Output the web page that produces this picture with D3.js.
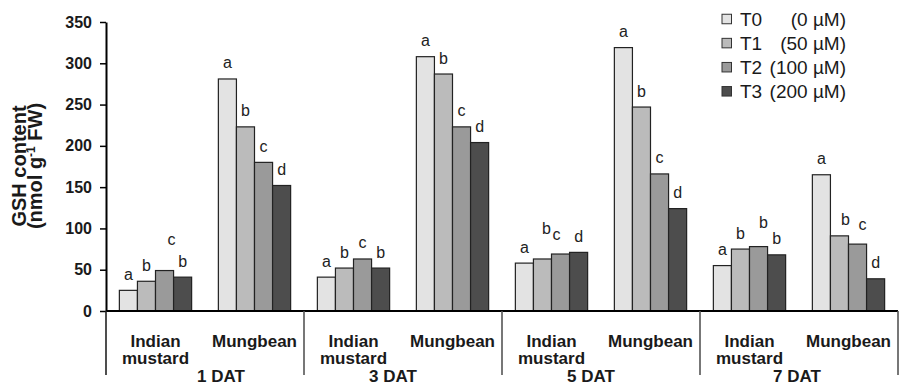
<!DOCTYPE html>
<html>
<head>
<meta charset="utf-8">
<script src="https://cdn.jsdelivr.net/npm/d3@7"></script>
<style>
  body { margin: 0; background: #fff; }
  svg { display: block; font-family: "Liberation Sans", Arial, sans-serif; }
</style>
</head>
<body>
<div id="chart"></div>
<script>
// data: order is 1 DAT IM, 1 DAT MB, 3 DAT IM, 3 DAT MB, ...
const days = ["1 DAT", "3 DAT", "5 DAT", "7 DAT"];
const crops = ["Indian mustard", "Mungbean"];
const treatments = ["T0", "T1", "T2", "T3"];
const doses = ["(0 µM)", "(50 µM)", "(100 µM)", "(200 µM)"];

const t0Values = [25, 281, 41, 308, 58, 319, 55, 165];
const t1Values = [36, 223, 52, 287, 63, 247, 75, 91];
const t2Values = [49, 180, 63, 223, 69, 166, 78, 81];
const t3Values = [41, 152, 52, 204, 71, 124, 68, 39];

const t0Letters = ["a", "a", "a", "a", "a", "a", "a", "a"];
const t1Letters = ["b", "b", "b", "b", "b", "b", "b", "b"];
const t2Letters = ["c", "c", "c", "c", "c", "c", "b", "c"];
const t3Letters = ["b", "d", "b", "d", "d", "d", "b", "d"];

const yTicks = [0, 50, 100, 150, 200, 250, 300, 350];

const seriesValues = [t0Values, t1Values, t2Values, t3Values];
const seriesLetters = [t0Letters, t1Letters, t2Letters, t3Letters];

let rows = [];
days.forEach((day, di) => {
  crops.forEach((crop, ci) => {
    treatments.forEach((t, ti) => {
      const k = di * crops.length + ci;
      rows.push({ day, crop, t, value: seriesValues[ti][k], letter: seriesLetters[ti][k] });
    });
  });
});

const colors = { T0: "#e3e3e3", T1: "#bbbbbb", T2: "#9a9a9a", T3: "#4d4d4d" };

// letters that sit off-centre in the original
const letterNudge = {
  "1 DAT|Indian mustard|T2": [7, -15],
  "5 DAT|Indian mustard|T1": [4, -14],
  "5 DAT|Indian mustard|T2": [-4, -4],
  "7 DAT|Indian mustard|T2": [5, -8],
  "7 DAT|Mungbean|T1": [6, 0],
  "7 DAT|Mungbean|T2": [5, -4]
};
const dayNudge = [16, -10, -10, -2];

const W = 902, H = 386;
const plotLeft = 106, plotRight = 898, plotTop = 22, plotBase = 311;

const svg = d3.select("#chart").append("svg")
  .attr("width", W)
  .attr("height", H);

const yScale = d3.scaleLinear().domain([0, 350]).range([plotBase, plotTop]);
const xDay = d3.scaleBand().domain(days).range([plotLeft, plotRight]);
const xCrop = d3.scaleBand().domain(crops).range([0, xDay.bandwidth()]);
const inset = xCrop.bandwidth() * 0.135;
const xTreat = d3.scaleBand().domain(treatments)
  .range([inset, xCrop.bandwidth() - inset]);

const barX = (d) => xDay(d.day) + xCrop(d.crop) + xTreat(d.t);
const nudgeOf = (d) => letterNudge[d.day + "|" + d.crop + "|" + d.t] || [0, 0];

// bars
svg.append("g")
  .selectAll("rect")
  .data(rows)
  .enter()
  .append("rect")
  .attr("x", barX)
  .attr("y", (d) => yScale(d.value))
  .attr("width", xTreat.bandwidth())
  .attr("height", (d) => plotBase - yScale(d.value))
  .attr("fill", (d) => colors[d.t])
  .attr("stroke", "#222")
  .attr("stroke-width", 1.2);

// significance letters
svg.append("g")
  .selectAll("text")
  .data(rows)
  .enter()
  .append("text")
  .attr("x", (d) => barX(d) + xTreat.bandwidth() / 2 + nudgeOf(d)[0])
  .attr("y", (d) => yScale(d.value) - 10.5 + nudgeOf(d)[1])
  .attr("text-anchor", "middle")
  .attr("font-size", 16)
  .attr("fill", "#222")
  .text((d) => d.letter);

// y axis
const yAxis = svg.append("g")
  .attr("transform", "translate(" + plotLeft + ",0)")
  .call(d3.axisLeft(yScale).tickValues(yTicks).tickSize(6).tickSizeOuter(0).tickPadding(8));
yAxis.select(".domain").attr("stroke", "#000").attr("stroke-width", 2);
yAxis.selectAll(".tick line").attr("stroke", "#000").attr("stroke-width", 1.5);
yAxis.selectAll(".tick text")
  .attr("font-family", "'Liberation Sans', Arial, sans-serif")
  .attr("font-size", 16)
  .attr("font-weight", "bold")
  .attr("fill", "#1a1a1a");

// x axis line and the group separators below it
svg.append("line")
  .attr("x1", xDay.range()[0]).attr("x2", xDay.range()[1])
  .attr("y1", plotBase).attr("y2", plotBase)
  .attr("stroke", "#000")
  .attr("stroke-width", 2.2);

const sepX = days.map((d) => xDay(d)).concat([xDay.range()[1]]);
svg.append("g")
  .selectAll("line")
  .data(sepX)
  .enter()
  .append("line")
  .attr("x1", (d) => d).attr("x2", (d) => d)
  .attr("y1", plotBase).attr("y2", 375)
  .attr("stroke", (d, i) => i == 0 ? "#222" : "#555")
  .attr("stroke-width", 1.6);

// crop labels
const cropLabels = svg.append("g")
  .attr("font-size", 17)
  .attr("font-weight", "bold")
  .attr("fill", "#1a1a1a")
  .attr("text-anchor", "middle");
days.forEach((day) => {
  crops.forEach((crop) => {
    const cx = xDay(day) + xCrop(crop) + xCrop.bandwidth() / 2;
    const words = crop == "Mungbean" ? [crop] : crop.split(" ");
    words.forEach((w, i) => {
      cropLabels.append("text")
        .attr("x", cx)
        .attr("y", 346.5 + i * 17)
        .text(w);
    });
  });
});

// day labels
svg.append("g")
  .selectAll("text")
  .data(days)
  .enter()
  .append("text")
  .attr("x", (d, i) => xDay(d) + xDay.bandwidth() / 2 + dayNudge[i])
  .attr("y", 382)
  .attr("text-anchor", "middle")
  .attr("font-size", 17)
  .attr("font-weight", "bold")
  .attr("fill", "#1a1a1a")
  .text((d) => d);

// y axis title, two lines
svg.append("text")
  .attr("transform", "translate(25.5,166) rotate(-90)")
  .attr("text-anchor", "middle")
  .attr("font-size", 20)
  .attr("font-weight", "bold")
  .attr("fill", "#1a1a1a")
  .text("GSH content");
const yUnit = svg.append("text")
  .attr("transform", "translate(41.5,166) rotate(-90)")
  .attr("text-anchor", "middle")
  .attr("font-size", 20)
  .attr("font-weight", "bold")
  .attr("fill", "#1a1a1a");
yUnit.append("tspan").text("(nmol g");
yUnit.append("tspan").attr("font-size", 12).attr("dy", -7).text("-1");
yUnit.append("tspan").attr("dy", 7).text(" FW)");

// legend
const legend = svg.append("g").attr("class", "legend");
const legendY = d3.scalePoint().domain(treatments).range([19, 91.3]);
treatments.forEach((t, i) => {
  const cy = legendY(t);
  legend.append("rect")
    .attr("x", 722).attr("y", cy - 4.75)
    .attr("width", 9.5).attr("height", 9.5)
    .attr("fill", colors[t])
    .attr("stroke", "#333")
    .attr("stroke-width", 1);
  legend.append("text")
    .attr("x", 740).attr("y", cy + 6.5)
    .attr("font-size", 19)
    .attr("fill", "#1a1a1a")
    .text(t);
  legend.append("text")
    .attr("x", 846).attr("y", cy + 6.5)
    .attr("font-size", 19)
    .attr("text-anchor", "end")
    .attr("fill", "#1a1a1a")
    .text(doses[i]);
});
</script>
</body>
</html>
